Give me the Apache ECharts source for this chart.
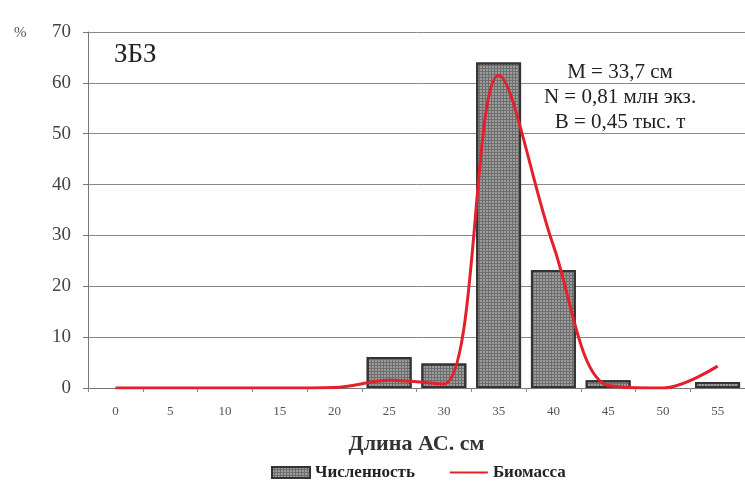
<!DOCTYPE html>
<html>
<head>
<meta charset="utf-8">
<script src="https://cdn.jsdelivr.net/npm/echarts@6/dist/echarts.min.js"></script>
<style>html,body{margin:0;padding:0;background:#fff;}#c{width:745px;height:492px;}</style>
</head>
<body>
<div id="c"></div>
<script>
const categories = ['0','5','10','15','20','25','30','35','40','45','50','55'];
const numbers = [0, 0, 0, 0, 0, 6.1, 4.8, 64, 23.2, 1.5, 0, 1.2];
const biomass = [0, 0, 0, 0, 0.1, 1.5, 0.8, 61.5, 28, 0.5, 0, 4.3];
const yTicks = { min: 0, max: 70, interval: 10 };
const seriesNames = ['Численность', 'Биомасса'];
const panelLabel = 'ЗБЗ';
const statsLines = ['M = 33,7 см', 'N = 0,81 млн экз.', 'B = 0,45 тыс. т'];

const serif = '"Liberation Serif", "DejaVu Serif", serif';
const barData = numbers.map(v => v === 0 ? { value: v, itemStyle: { borderWidth: 0 } } : v);
const chart = echarts.init(document.getElementById('c'));
chart.setOption({
  animation: false,
  backgroundColor: '#fff',
  grid: { left: 88, right: -2, top: 32, bottom: 104 },
  legend: {
    bottom: 6, left: 266, itemGap: 34, itemWidth: 38, itemHeight: 11,
    textStyle: { fontFamily: serif, fontSize: 17, color: '#222', fontWeight: 'bold' },
    data: [
      { name: seriesNames[0], icon: 'rect' },
      { name: seriesNames[1], itemStyle: { opacity: 0 } }
    ]
  },
  xAxis: {
    type: 'category', data: categories, boundaryGap: true,
    name: 'Длина АС. см', nameLocation: 'middle', nameGap: 45,
    nameTextStyle: { fontFamily: serif, fontSize: 22, color: '#333', fontWeight: 'bold' },
    axisLine: { lineStyle: { color: '#777', width: 1 } },
    axisTick: { show: true, length: 4, lineStyle: { color: '#888' } },
    axisLabel: { fontFamily: serif, fontSize: 13, color: '#555', margin: 17 },
    splitLine: { show: false }
  },
  yAxis: {
    type: 'value', min: yTicks.min, max: yTicks.max, interval: yTicks.interval,
    axisLine: { show: true, lineStyle: { color: '#777', width: 1 } },
    axisTick: { show: true, length: 5, lineStyle: { color: '#777' } },
    axisLabel: { fontFamily: serif, fontSize: 19, color: '#444', margin: 17 },
    splitLine: { show: true, lineStyle: { color: '#888', width: 1 } }
  },
  graphic: [
    { type: 'text', x: 14, y: 26, style: { text: '%', font: '15px ' + serif, fill: '#555' } },
    { type: 'text', x: 114, y: 41, style: { text: panelLabel, font: '27px ' + serif, fill: '#222' } },
    { type: 'text', x: 620, y: 60, style: { text: statsLines.join('\n'), font: '21px ' + serif, fill: '#222', align: 'center', lineHeight: 25 } }
  ],
  series: [
    {
      name: seriesNames[0], type: 'bar', data: barData, barWidth: '82%', z: 2,
      itemStyle: {
        color: '#6e6e6e', borderColor: '#333', borderWidth: 2,
        decal: { symbol: 'circle', symbolSize: 0.9, color: 'rgba(235,235,235,0.55)', dashArrayX: [2, 1], dashArrayY: [2, 1] }
      }
    },
    {
      name: seriesNames[1], type: 'line', data: biomass, smooth: 0.35, symbol: 'none', z: 5,
      lineStyle: { color: '#e3202c', width: 3 }, itemStyle: { color: '#e3202c' }
    }
  ]
});
</script>
</body>
</html>
